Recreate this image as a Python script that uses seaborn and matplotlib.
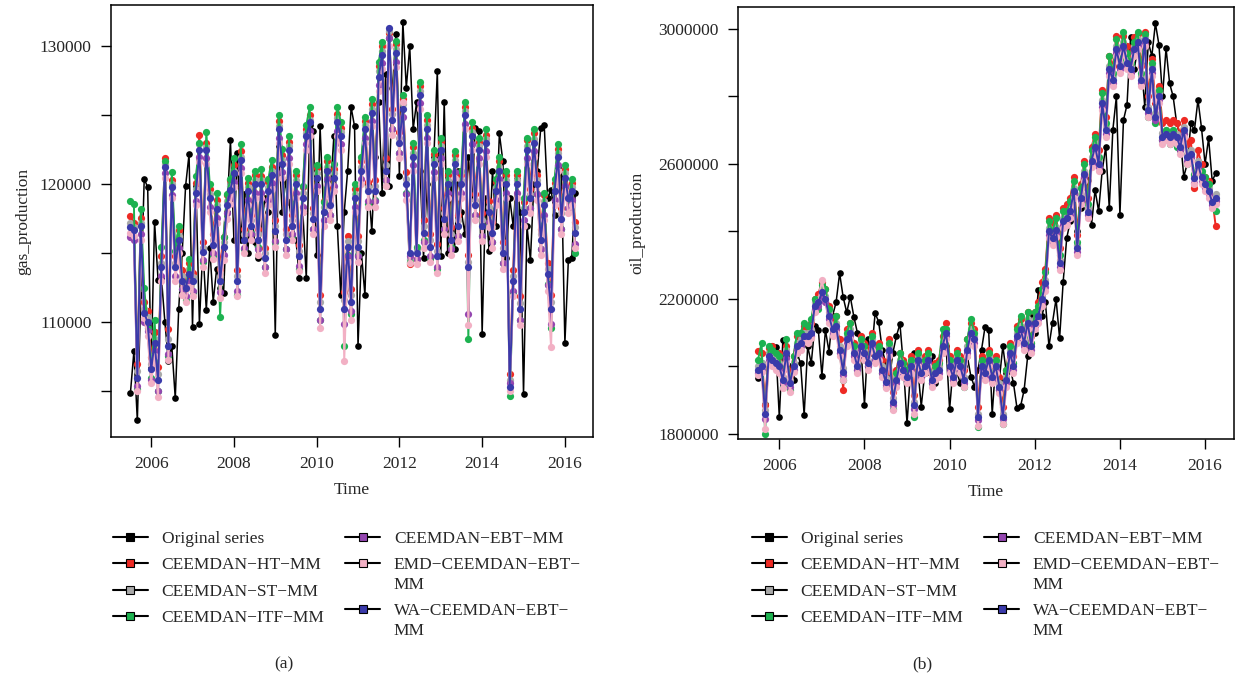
import numpy as np
import pandas as pd
import seaborn as sns
import matplotlib.pyplot as plt
from matplotlib.lines import Line2D
from matplotlib.legend_handler import HandlerLine2D

sns.set_theme(style='ticks')
plt.rcParams['font.family'] = ['Liberation Serif', 'DejaVu Serif']
plt.rcParams['axes.unicode_minus'] = True

# monthly observations, Jul 2005 .. Apr 2016
months = pd.date_range('2005-07-01', periods=130, freq='MS')
time = months.year + (months.month - 1) / 12

models = ['Original series', 'CEEMDAN\u2212HT\u2212MM', 'CEEMDAN\u2212ST\u2212MM',
          'CEEMDAN\u2212ITF\u2212MM', 'CEEMDAN\u2212EBT\u2212MM',
          'EMD\u2212CEEMDAN\u2212EBT\u2212\nMM', 'WA\u2212CEEMDAN\u2212EBT\u2212\nMM']
colors = ['#000000', '#EE2A24', '#A9A9A9', '#1DB250', '#9446B0', '#F2B0C4', '#3A3AAA']

# ---- gas production (thousands) ----
gas_orig = [104.9, 107.9, 102.9, 112.0, 120.4, 119.8, 106.7, 117.3, 113.1, 113.2,
            110.0, 107.2, 108.3, 104.5, 111.0, 115.0, 119.9, 122.2, 109.7, 119.9,
            109.9, 115.4, 110.9, 115.4, 111.5, 113.9, 112.5, 112.1, 118.0, 123.2,
            116.0, 122.3, 116.0, 119.3, 115.0, 118.6, 115.8, 114.7, 117.0, 119.0,
            118.0, 121.2, 109.1, 122.8, 118.0, 120.2, 118.7, 117.0, 116.0, 113.2,
            118.0, 113.2, 124.3, 123.9, 114.9, 124.2, 118.0, 121.1, 119.6, 123.5,
            117.0, 112.0, 118.0, 121.0, 125.6, 124.2, 108.3, 115.0, 112.0, 120.0,
            116.6, 122.0, 126.0, 119.4, 128.0, 119.9, 127.0, 130.9, 120.6, 131.8,
            127.0, 130.0, 124.0, 126.0, 121.0, 114.7, 120.0, 114.6, 122.0, 128.2,
            114.8, 126.0, 115.0, 120.0, 115.3, 121.0, 118.0, 116.4, 122.0, 119.0,
            124.1, 123.9, 109.2, 119.0, 115.2, 121.0, 117.0, 123.7, 121.7, 114.7,
            119.0, 117.0, 120.4, 118.0, 104.8, 117.0, 114.5, 120.0, 121.0, 124.1,
            124.3, 119.0, 119.6, 117.8, 121.3, 120.7, 108.5, 114.5, 114.7, 119.4]
gas_ht = [117.7, 117.2, 107.0, 117.6, 111.5, 110.8, 107.5, 109.3, 106.8, 114.8,
          121.9, 109.5, 120.3, 114.8, 116.7, 113.8, 113.2, 114.3, 113.6, 120.1,
          123.6, 115.8, 123.0, 119.7, 116.4, 118.9, 113.9, 116.2, 119.2, 120.3,
          121.4, 113.8, 122.4, 116.8, 120.1, 117.8, 120.7, 116.8, 120.6, 115.4,
          120.2, 121.3, 117.4, 124.6, 122.1, 116.8, 123.1, 117.8, 120.7, 115.6,
          119.8, 124.0, 125.0, 118.3, 121.2, 112.0, 118.8, 121.7, 119.2, 121.1,
          125.1, 124.1, 112.2, 116.3, 112.4, 119.7, 116.3, 121.7, 124.6, 120.2,
          125.8, 120.3, 128.6, 130.0, 121.9, 131.0, 125.5, 130.2, 123.8, 126.2,
          120.9, 114.2, 122.7, 114.6, 127.1, 117.4, 124.7, 116.4, 122.2, 115.7,
          123.1, 118.3, 120.7, 116.9, 122.1, 117.8, 120.7, 125.6, 114.9, 124.1,
          119.3, 123.1, 117.9, 123.6, 118.8, 117.3, 120.2, 121.7, 115.8, 120.7,
          106.3, 113.8, 120.7, 111.9, 118.7, 123.2, 119.7, 123.7, 120.7, 116.8,
          119.2, 114.3, 112.0, 120.1, 122.6, 118.3, 121.1, 119.7, 120.1, 117.3]
gas_st = [117.2, 116.9, 106.5, 117.2, 111.0, 110.4, 107.0, 108.8, 106.3, 114.3,
          121.5, 108.8, 120.0, 114.3, 116.3, 113.4, 112.8, 113.9, 113.3, 119.7,
          122.9, 115.4, 122.7, 119.3, 116.0, 118.5, 113.4, 115.8, 118.8, 119.9,
          121.0, 113.4, 122.0, 116.4, 119.8, 117.4, 120.3, 116.4, 120.3, 115.0,
          119.8, 121.0, 117.0, 124.2, 121.8, 116.4, 122.8, 117.4, 120.3, 115.2,
          119.4, 123.7, 124.7, 117.9, 120.8, 111.5, 118.4, 121.3, 118.8, 120.8,
          124.8, 123.8, 111.6, 115.9, 112.0, 119.3, 115.9, 121.3, 124.3, 119.8,
          125.5, 119.9, 128.2, 129.7, 121.4, 131.1, 125.1, 129.8, 123.4, 125.8,
          120.4, 114.6, 122.3, 115.3, 126.8, 117.0, 124.3, 116.0, 121.8, 115.2,
          122.8, 117.9, 120.3, 116.4, 121.8, 117.4, 120.3, 125.3, 114.4, 123.8,
          118.9, 122.8, 117.4, 123.3, 118.4, 116.9, 119.8, 121.3, 115.4, 120.3,
          105.8, 113.4, 120.3, 111.4, 118.3, 122.8, 119.3, 123.3, 120.3, 116.4,
          118.8, 113.9, 111.5, 119.8, 122.3, 117.9, 120.8, 119.3, 119.8, 116.9]
gas_itf = [118.8, 118.6, 105.2, 118.2, 112.5, 109.6, 106.0, 110.2, 105.0, 115.5,
           121.7, 107.6, 120.9, 115.2, 117.0, 112.4, 111.6, 114.6, 112.2, 120.6,
           123.0, 114.4, 123.8, 120.0, 114.8, 119.4, 110.4, 116.2, 119.3, 120.4,
           121.9, 112.0, 122.9, 115.3, 120.5, 116.5, 121.0, 115.5, 121.1, 114.0,
           120.4, 121.8, 115.8, 125.0, 122.6, 115.3, 123.5, 116.3, 121.0, 113.9,
           119.9, 124.3, 125.6, 116.8, 121.4, 110.2, 118.7, 122.0, 117.8, 121.5,
           125.6, 124.5, 108.3, 114.9, 110.6, 120.0, 114.9, 122.0, 124.9, 118.6,
           126.2, 118.9, 128.9, 130.3, 120.3, 130.6, 124.0, 130.4, 122.3, 126.5,
           119.4, 114.4, 123.0, 115.5, 127.4, 116.0, 125.0, 114.7, 122.5, 113.9,
           123.4, 116.8, 121.0, 115.5, 122.4, 116.3, 121.0, 126.0, 108.8, 124.5,
           117.8, 123.4, 116.3, 124.0, 117.2, 115.8, 120.4, 122.0, 114.3, 121.0,
           104.7, 112.2, 121.0, 110.2, 119.0, 123.4, 118.3, 124.0, 119.3, 115.3,
           119.4, 112.8, 109.6, 120.4, 122.9, 116.8, 121.4, 118.3, 120.4, 115.0]
gas_ebt = [116.2, 116.0, 105.4, 116.4, 110.0, 109.4, 105.8, 107.9, 105.0, 113.4,
           120.8, 107.7, 119.2, 113.4, 115.4, 112.4, 111.9, 112.9, 112.3, 118.8,
           122.0, 114.5, 121.9, 118.4, 115.0, 117.6, 112.2, 114.9, 117.9, 119.0,
           120.2, 112.3, 121.2, 115.4, 118.9, 116.4, 119.4, 115.3, 119.4, 114.0,
           118.9, 120.1, 115.9, 123.4, 120.9, 115.3, 121.9, 116.4, 119.4, 114.1,
           118.4, 122.9, 123.9, 116.8, 119.9, 110.2, 117.4, 120.4, 117.8, 119.9,
           123.9, 122.9, 109.9, 114.8, 110.8, 118.4, 114.8, 120.4, 123.4, 118.8,
           124.6, 118.8, 127.2, 128.8, 120.3, 130.6, 124.0, 128.9, 122.3, 124.9,
           119.3, 114.8, 121.4, 114.6, 125.9, 115.8, 123.4, 114.8, 120.9, 114.0,
           121.9, 116.8, 119.4, 115.3, 120.9, 116.3, 119.4, 124.4, 110.6, 122.9,
           117.8, 121.9, 116.3, 122.4, 117.3, 115.8, 118.9, 120.4, 114.3, 119.4,
           105.6, 112.3, 119.4, 110.2, 117.4, 121.9, 118.3, 122.4, 119.3, 115.3,
           117.8, 112.7, 109.9, 118.9, 121.4, 116.8, 119.9, 118.3, 118.9, 115.7]
gas_emd = [116.5, 116.3, 105.0, 116.0, 110.3, 109.0, 105.6, 107.6, 104.6, 113.0,
           120.5, 107.3, 119.0, 113.0, 115.0, 112.0, 111.5, 112.6, 111.9, 118.5,
           121.6, 114.0, 121.5, 118.0, 114.6, 117.2, 111.8, 114.5, 117.5, 118.6,
           119.8, 111.9, 120.8, 115.0, 118.5, 116.0, 119.0, 114.9, 119.0, 113.6,
           118.5, 119.7, 115.5, 123.0, 120.5, 114.9, 121.5, 116.0, 119.0, 113.7,
           118.0, 122.5, 123.5, 116.4, 119.5, 109.6, 117.0, 120.0, 117.4, 119.5,
           123.5, 122.5, 107.2, 114.4, 110.2, 118.0, 114.4, 120.0, 123.0, 118.4,
           124.2, 118.4, 126.8, 128.4, 119.9, 130.0, 123.6, 128.5, 121.9, 126.0,
           118.9, 114.3, 121.0, 114.2, 125.5, 115.4, 123.0, 114.4, 120.5, 113.6,
           121.5, 116.4, 119.0, 114.9, 120.5, 115.9, 119.0, 124.0, 109.8, 122.5,
           117.4, 121.5, 115.9, 122.0, 116.9, 115.4, 118.5, 120.0, 113.9, 119.0,
           105.0, 111.9, 119.0, 109.8, 117.0, 121.5, 117.9, 122.0, 118.9, 114.9,
           117.4, 112.3, 108.2, 118.5, 121.0, 116.4, 119.5, 117.9, 118.5, 115.4]
gas_wa = [116.9, 116.7, 106.0, 117.0, 110.7, 110.0, 106.6, 108.5, 105.8, 114.0,
          121.3, 108.3, 119.8, 114.0, 116.0, 113.0, 112.5, 113.5, 113.0, 119.4,
          122.5, 115.1, 122.5, 119.0, 115.6, 118.2, 113.0, 115.5, 118.5, 119.6,
          120.8, 113.0, 121.8, 116.0, 119.5, 117.0, 120.0, 116.0, 120.0, 114.7,
          119.5, 120.7, 116.6, 124.0, 121.5, 116.0, 122.5, 117.0, 120.0, 114.8,
          119.0, 123.5, 124.5, 117.5, 120.5, 111.0, 118.0, 121.0, 118.5, 120.5,
          124.5, 123.5, 111.0, 115.5, 111.5, 119.0, 115.5, 121.0, 124.0, 119.5,
          125.2, 119.5, 127.8, 129.4, 121.0, 131.3, 124.7, 129.5, 123.0, 125.5,
          120.0, 115.0, 122.0, 115.0, 126.5, 116.5, 124.0, 115.5, 121.5, 114.8,
          122.5, 117.5, 120.0, 116.0, 121.5, 117.0, 120.0, 125.0, 114.0, 123.5,
          118.5, 122.5, 117.0, 123.0, 118.0, 116.5, 119.5, 121.0, 115.0, 120.0,
          105.3, 113.0, 120.0, 111.0, 118.0, 122.5, 119.0, 123.0, 120.0, 116.0,
          118.5, 113.5, 111.0, 119.5, 122.0, 117.5, 120.5, 119.0, 119.5, 116.5]

# ---- oil production (thousands) ----
oil_orig = [1965, 2010, 1890, 2040, 2060, 2058, 1849, 2078, 2030, 2000,
            1960, 2040, 2009, 1856, 2060, 2009, 2120, 2108, 1972, 2108,
            2044, 2150, 2190, 2276, 2205, 2160, 2207, 2148, 2100, 2060,
            1886, 2080, 2040, 2157, 2133, 2050, 2010, 1960, 2040, 2090,
            2126, 2000, 1831, 1990, 2039, 2000, 1881, 1982, 1985, 2030,
            1950, 2000, 2040, 2061, 1873, 2000, 1985, 1950, 2000, 2030,
            1970, 1940, 1990, 2050, 2118, 2108, 1859, 2010, 1960, 2060,
            1980, 2000, 1950, 1876, 1882, 1930, 2030, 2156, 2100, 2227,
            2150, 2190, 2060, 2130, 2200, 2083, 2250, 2380, 2430, 2518,
            2400, 2470, 2490, 2551, 2420, 2523, 2460, 2580, 2650, 2469,
            2700, 2800, 2449, 2730, 2775, 2977, 2880, 2940, 2900, 2770,
            2960, 2920, 3017, 2953, 2800, 2943, 2839, 2800, 2720, 2680,
            2562, 2602, 2720, 2700, 2790, 2706, 2600, 2676, 2550, 2572]
oil_ht = [2045, 2040, 1885, 2055, 2060, 2035, 2040, 1990, 2060, 1975,
          2030, 2090, 2100, 2120, 2110, 2130, 2200, 2215, 2250, 2230,
          2180, 2140, 2150, 2080, 1930, 2110, 2130, 2070, 2020, 2090,
          2070, 2040, 2100, 2060, 2070, 2020, 1985, 2080, 1925, 1990,
          2040, 2020, 2000, 2030, 1915, 2050, 2010, 2030, 2050, 1990,
          2010, 2020, 2090, 2130, 2030, 2000, 2050, 2030, 1990, 2080,
          2130, 2110, 1880, 2030, 2010, 2050, 2000, 2030, 1970, 1880,
          1990, 2070, 2030, 2120, 2140, 2100, 2160, 2090, 2160, 2190,
          2250, 2290, 2440, 2420, 2450, 2350, 2470, 2480, 2500, 2560,
          2390, 2540, 2610, 2500, 2650, 2690, 2640, 2820, 2740, 2920,
          2890, 2980, 2930, 2980, 2950, 2920, 2975, 2985, 2890, 2990,
          2800, 2910, 2780, 2830, 2720, 2730, 2720, 2730, 2720, 2690,
          2730, 2660, 2670, 2530, 2640, 2600, 2560, 2550, 2500, 2415]
oil_st = [2000, 2010, 1870, 2040, 2030, 2020, 2010, 1970, 2050, 1960,
          2010, 2070, 2080, 2100, 2100, 2110, 2190, 2200, 2230, 2210,
          2160, 2120, 2130, 2060, 1995, 2090, 2110, 2050, 2010, 2070,
          2050, 2020, 2080, 2040, 2050, 2000, 1965, 2060, 1906, 1970,
          2020, 2000, 1980, 2010, 1896, 2030, 1990, 2010, 2030, 1970,
          1990, 2000, 2070, 2110, 2010, 1980, 2030, 2010, 1970, 2060,
          2110, 2090, 1860, 2010, 1990, 2030, 1980, 2010, 1950, 1860,
          1970, 2050, 2010, 2100, 2120, 2080, 2140, 2070, 2140, 2160,
          2210, 2256, 2410, 2390, 2414, 2316, 2440, 2450, 2470, 2530,
          2360, 2510, 2580, 2469, 2620, 2661, 2610, 2790, 2710, 2890,
          2860, 2950, 2900, 2960, 2910, 2890, 2950, 2970, 2860, 2977,
          2770, 2890, 2750, 2810, 2691, 2700, 2690, 2700, 2690, 2660,
          2710, 2630, 2640, 2567, 2610, 2570, 2550, 2530, 2498, 2510]
oil_itf = [2020, 2070, 1800, 2060, 2050, 2040, 2030, 1940, 2080, 1930,
           2030, 2100, 2100, 2130, 2120, 2140, 2200, 2170, 2240, 2230,
           2170, 2100, 2150, 2040, 1960, 2100, 2130, 2060, 1990, 2080,
           2060, 2000, 2090, 2050, 2060, 1980, 1940, 2070, 1875, 1980,
           2040, 2010, 1990, 2020, 1850, 2040, 1970, 2020, 2040, 1950,
           2000, 2010, 2110, 2110, 2020, 1960, 2040, 2020, 1940, 2080,
           2140, 2100, 1820, 2020, 1990, 2040, 1960, 2020, 1930, 1830,
           1990, 2060, 2010, 2110, 2150, 2090, 2160, 2070, 2160, 2180,
           2230, 2280, 2430, 2400, 2440, 2330, 2460, 2460, 2490, 2550,
           2370, 2530, 2600, 2480, 2640, 2680, 2620, 2810, 2720, 2920,
           2870, 2970, 2910, 2990, 2930, 2900, 2960, 2990, 2870, 2985,
           2740, 2900, 2720, 2820, 2670, 2700, 2660, 2700, 2650, 2640,
           2690, 2600, 2620, 2570, 2590, 2580, 2560, 2540, 2490, 2460]
oil_ebt = [1980, 1990, 1845, 2020, 2010, 2000, 1990, 1950, 2025, 1940,
           1990, 2050, 2060, 2080, 2080, 2090, 2170, 2180, 2210, 2190,
           2140, 2100, 2110, 2040, 1975, 2070, 2090, 2030, 1990, 2050,
           2030, 2000, 2060, 2020, 2030, 1980, 1945, 2040, 1885, 1950,
           2000, 1980, 1960, 1990, 1875, 2010, 1970, 1990, 2010, 1950,
           1970, 1980, 2050, 2090, 1990, 1960, 2010, 1990, 1950, 2040,
           2090, 2070, 1840, 1990, 1970, 2010, 1960, 1990, 1930, 1845,
           1950, 2030, 1990, 2080, 2100, 2060, 2120, 2050, 2120, 2140,
           2190, 2235, 2390, 2370, 2395, 2295, 2420, 2430, 2450, 2510,
           2340, 2490, 2560, 2450, 2600, 2640, 2590, 2770, 2690, 2870,
           2840, 2930, 2880, 2940, 2890, 2870, 2930, 2950, 2840, 2955,
           2750, 2870, 2730, 2790, 2670, 2680, 2670, 2680, 2670, 2640,
           2690, 2610, 2620, 2545, 2590, 2550, 2530, 2510, 2478, 2490]
oil_emd = [1975, 1985, 1815, 2010, 2000, 1990, 1980, 1935, 2010, 1925,
           1985, 2040, 2050, 2075, 2070, 2085, 2160, 2190, 2256, 2200,
           2130, 2090, 2100, 2030, 1960, 2060, 2080, 2020, 1980, 2040,
           2020, 1990, 2050, 2010, 2020, 1970, 1935, 2030, 1870, 1940,
           1990, 1970, 1950, 1980, 1860, 2000, 1960, 1980, 2000, 1940,
           1960, 1970, 2040, 2080, 1980, 1950, 2000, 1980, 1940, 2030,
           2080, 2060, 1825, 1980, 1960, 2000, 1950, 1980, 1920, 1830,
           1940, 2020, 1980, 2070, 2090, 2050, 2110, 2040, 2110, 2130,
           2180, 2225, 2380, 2360, 2385, 2285, 2410, 2420, 2440, 2500,
           2330, 2480, 2550, 2440, 2590, 2630, 2580, 2760, 2680, 2860,
           2830, 2920, 2870, 2930, 2880, 2860, 2920, 2940, 2830, 2950,
           2740, 2860, 2790, 2780, 2660, 2670, 2660, 2670, 2660, 2630,
           2680, 2600, 2610, 2540, 2580, 2540, 2520, 2500, 2470, 2480]
oil_wa = [1990, 2000, 1860, 2030, 2020, 2010, 2000, 1960, 2040, 1950,
          2000, 2060, 2070, 2090, 2090, 2100, 2180, 2190, 2220, 2200,
          2150, 2110, 2120, 2050, 1985, 2080, 2100, 2040, 2000, 2060,
          2040, 2010, 2070, 2030, 2040, 1990, 1955, 2050, 1896, 1960,
          2010, 1990, 1970, 2000, 1886, 2020, 1980, 2000, 2020, 1960,
          1980, 1990, 2060, 2100, 2000, 1970, 2020, 2000, 1960, 2050,
          2100, 2080, 1850, 2000, 1980, 2020, 1970, 2000, 1940, 1850,
          1960, 2040, 2000, 2090, 2110, 2070, 2130, 2060, 2130, 2150,
          2200, 2246, 2400, 2380, 2404, 2306, 2430, 2440, 2460, 2520,
          2350, 2500, 2570, 2459, 2610, 2651, 2600, 2780, 2700, 2880,
          2850, 2940, 2890, 2950, 2900, 2880, 2940, 2960, 2850, 2967,
          2760, 2880, 2740, 2800, 2681, 2690, 2680, 2690, 2680, 2650,
          2700, 2620, 2630, 2557, 2600, 2560, 2540, 2520, 2488, 2500]

gas_series = [gas_orig, gas_ht, gas_st, gas_itf, gas_ebt, gas_emd, gas_wa]
oil_series = [oil_orig, oil_ht, oil_st, oil_itf, oil_ebt, oil_emd, oil_wa]


class LeftMarker(HandlerLine2D):
    # legend key: black line with the coloured square at its left end,
    # lifted to the first text line for two-line labels
    def __init__(self, yshift=0, **kw):
        super().__init__(**kw)
        self.yshift = yshift

    def get_xdata(self, legend, xdescent, ydescent, width, height, fontsize):
        xdata, _ = super().get_xdata(legend, xdescent, ydescent, width, height, fontsize)
        return xdata, xdata[:1]

    def create_artists(self, legend, orig_handle, xdescent, ydescent, width, height,
                       fontsize, trans):
        arts = super().create_artists(legend, orig_handle, xdescent, ydescent, width,
                                      height, fontsize, trans)
        for a in arts:
            a.set_ydata(np.asarray(a.get_ydata()) + self.yshift)
        return arts


def make_frame(series):
    return pd.DataFrame({
        'Time': np.tile(time, len(series)),
        'value': np.concatenate(series) * 1000,
        'model': np.repeat(models, len(time)),
    })


def draw_panel(ax, series, ylabel, ylim, yticks, ylabels, ylabelpad):
    df = make_frame(series)
    sns.lineplot(data=df[df['model'] == models[0]], x='Time', y='value', color=colors[0],
                 marker='o', markersize=4.8, markeredgewidth=0, linewidth=1.1,
                 estimator=None, sort=False, legend=False, ax=ax)
    sns.lineplot(data=df[df['model'] != models[0]], x='Time', y='value', hue='model',
                 hue_order=models[1:], palette=colors[1:], marker='o', markersize=5.2,
                 markeredgewidth=0, linewidth=1.4, estimator=None, sort=False,
                 legend=False, ax=ax)
    ax.set_xlim(2005.03, 2016.68)
    ax.set_ylim(*ylim)
    ax.set_xticks([2006, 2008, 2010, 2012, 2014, 2016])
    ax.set_yticks(yticks)
    ax.set_yticklabels(ylabels)
    ax.set_xlabel('Time', fontsize=12.5, labelpad=7)
    ax.set_ylabel(ylabel, fontsize=12.5, labelpad=ylabelpad)
    ax.tick_params(direction='out', length=7, width=1, color='black',
                   labelsize=12.5, pad=7)
    for s in ax.spines.values():
        s.set_linewidth(1.1)
        s.set_color('black')


fig = plt.figure(figsize=(12.36, 6.88), dpi=100)
ax1 = fig.add_axes([0.0898, 0.3648, 0.3900, 0.6279])
ax2 = fig.add_axes([0.5971, 0.3619, 0.4013, 0.6279])

draw_panel(ax1, gas_series, 'gas_production', (101700, 133000),
           [105000, 110000, 115000, 120000, 125000, 130000],
           ['', '110000', '', '120000', '', '130000'], 6)
draw_panel(ax2, oil_series, 'oil_production', (1785000, 3065000),
           [1800000, 2000000, 2200000, 2400000, 2600000, 2800000, 3000000],
           ['1800000', '', '2200000', '', '2600000', '', '3000000'], 9)

handles = [Line2D([], [], color='black', linewidth=1.5, marker='s', markersize=5.5,
                  markerfacecolor=c, markeredgecolor='black', markeredgewidth=0.8)
           for c in colors]
hmap = {h: LeftMarker(yshift=(8.5 if '\n' in lab else 0)) for h, lab in zip(handles, models)}
for ax, x0 in [(ax1, 113), (ax2, 752)]:
    leg = ax.legend(handles, models, handler_map=hmap,
                    loc='upper left', bbox_to_anchor=(x0 / 1236, 1 - 531 / 688),
                    bbox_transform=fig.transFigure, ncol=2, frameon=False, fontsize=12.5,
                    handlelength=2.0, handletextpad=0.8, columnspacing=1.2,
                    labelspacing=0.58, borderpad=0, borderaxespad=0)
    for txt in leg.get_texts():
        txt.set_linespacing(1.32)

fig.text(284 / 1236, 1 - 664 / 688, '(a)', ha='center', va='center', fontsize=12.5)
fig.text(922 / 1236, 1 - 664 / 688, '(b)', ha='center', va='center', fontsize=12.5)

fig.savefig('out.png', dpi=100)
